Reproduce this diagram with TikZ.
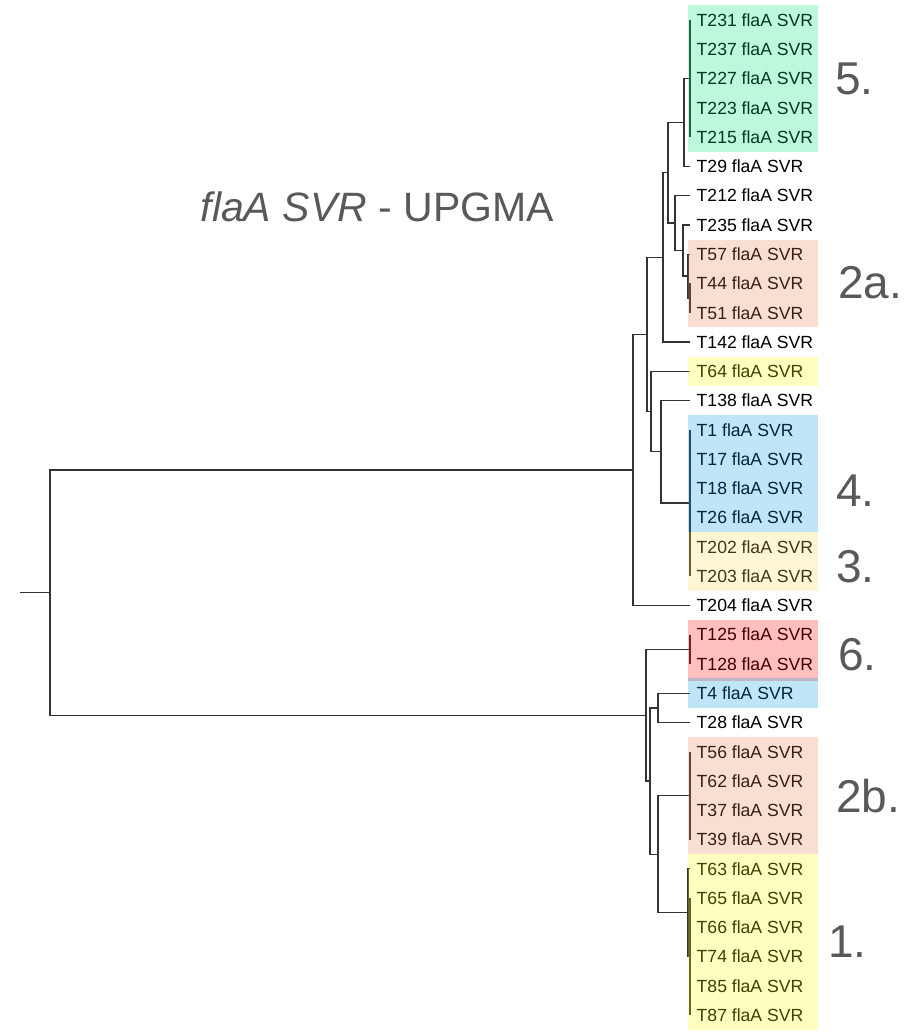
\documentclass[tikz,border=0pt]{standalone}
\usepackage{fontspec}
\setmainfont{Liberation Sans}
\definecolor{ln}{HTML}{333333}
\definecolor{lbl}{HTML}{595959}
\definecolor{cmint}{RGB}{0,225,115}
\definecolor{cpeach}{RGB}{231,123,75}
\definecolor{cyel}{RGB}{255,255,0}
\definecolor{cblue}{RGB}{0,155,223}
\definecolor{ccream}{RGB}{255,219,79}
\definecolor{cred}{RGB}{255,0,0}
\tikzset{
  branch/.style={draw=ln, line width=1.3pt},
  leaf/.style={anchor=west, inner sep=0pt, font=\fontsize{17.6}{20}\selectfont, text height=12.6pt, text depth=0pt},
  grp/.style={anchor=base west, inner sep=0pt, text=lbl, font=\fontsize{46}{50}\selectfont},
  ttl/.style={anchor=base east, inner sep=0pt, text=lbl, font=\fontsize{41}{46}\selectfont},
  hl/.style={fill opacity=0.25}
}
\begin{document}
\begin{tikzpicture}[x=1pt,y=-1pt]
\useasboundingbox (0,0) rectangle (918,1032);
% leaves
\foreach \i/\n in {1/T231,2/T237,3/T227,4/T223,5/T215,6/T29,7/T212,8/T235,9/T57,10/T44,11/T51,12/T142,13/T64,14/T138,15/T1,16/T17,17/T18,18/T26,19/T202,20/T203,21/T204,22/T125,23/T128,24/T4,25/T28,26/T56,27/T62,28/T37,29/T39,30/T63,31/T65,32/T66,33/T74,34/T85,35/T87}{
  \coordinate (tip\i) at (690,{20+(\i-1)*29.27});
  \node[leaf] (lab\i) at ([xshift=6.5pt]tip\i) {\n\ flaA SVR};
}
% internal nodes
\coordinate (A)   at (690,78.54);
\coordinate (B)   at (684,122.45);
\coordinate (C2)  at (690,298.07);
\coordinate (C)   at (688,276.1);
\coordinate (D)   at (683,250.5);
\coordinate (E)   at (675,223.06);
\coordinate (F)   at (668,172.75);
\coordinate (G)   at (663,257.36);
\coordinate (S)   at (690,502.96);
\coordinate (R)   at (661,451.73);
\coordinate (Q)   at (651,411.49);
\coordinate (P)   at (647,334.43);
\coordinate (X)   at (633,469.9);
\coordinate (K6)  at (690,649.3);
\coordinate (W)   at (658,707.85);
\coordinate (B2)  at (690,795.66);
\coordinate (C1s) at (690,956.64);
\coordinate (C1)  at (688,912.74);
\coordinate (V)   at (658,854.2);
\coordinate (Z)   at (650,781.03);
\coordinate (Y)   at (646,715.17);
\coordinate (root) at (50,592.5);
\coordinate (stem) at (20,592.5);
% branches
\draw[branch] (tip1) -- (tip5);
\draw[branch] (B) |- (A) (B) |- (tip6);
\draw[branch] (tip10) -- (tip11);
\draw[branch] (C) |- (tip9) (C) |- (C2);
\draw[branch] (D) |- (tip8) (D) |- (C);
\draw[branch] (E) |- (tip7) (E) |- (D);
\draw[branch] (F) |- (B) (F) |- (E);
\draw[branch] (G) |- (F) (G) |- (tip12);
\draw[branch] (tip15) -- (tip20);
\draw[branch] (R) |- (tip14) (R) |- (S);
\draw[branch] (Q) |- (tip13) (Q) |- (R);
\draw[branch] (P) |- (G) (P) |- (Q);
\draw[branch] (X) |- (P) (X) |- (tip21);
\draw[branch] (tip22) -- (tip23);
\draw[branch] (W) |- (tip24) (W) |- (tip25);
\draw[branch] (tip26) -- (tip29);
\draw[branch] (tip31) -- (tip35);
\draw[branch] (C1) |- (tip30) (C1) |- (C1s);
\draw[branch] (V) |- (B2) (V) |- (C1);
\draw[branch] (Z) |- (W) (Z) |- (V);
\draw[branch] (Y) |- (K6) (Y) |- (Z);
\draw[branch] (root) |- (X) (root) |- (Y);
\draw[branch] (stem) -- (root);
% highlight boxes
\fill[hl, fill=cmint]  (688,5.365)   rectangle (818,151.715);
\fill[hl, fill=cpeach] (688,239.525) rectangle (818,327.335);
\fill[hl, fill=cyel]   (688,356.6)   rectangle (818,385.9);
\fill[hl, fill=cblue]  (688,415.145) rectangle (818,532.225);
\fill[hl, fill=ccream] (688,532.225) rectangle (818,590.765);
\fill[hl, fill=cred]   (688,620.035) rectangle (818,680.5);
\fill[hl, fill=cblue]  (688,678.3)   rectangle (818,707.845);
\fill[hl, fill=cpeach] (688,737.115) rectangle (818,854.195);
\fill[hl, fill=cyel]   (688,854.195) rectangle (818,1029.815);
% group labels
\node[grp] (g5)  at (835,95)  {5.};
\node[grp] (g2a) at (838,298) {2a.};
\node[grp] (g4)  at (836,506) {4.};
\node[grp] (g3)  at (836,582) {3.};
\node[grp] (g6)  at (838,670) {6.};
\node[grp] (g2b) at (836,812) {2b.};
\node[grp] (g1)  at (828,957) {1.};
% title
\node[ttl] (title) at (554,222) {\textit{flaA SVR} - UPGMA};
\end{tikzpicture}
\end{document}
